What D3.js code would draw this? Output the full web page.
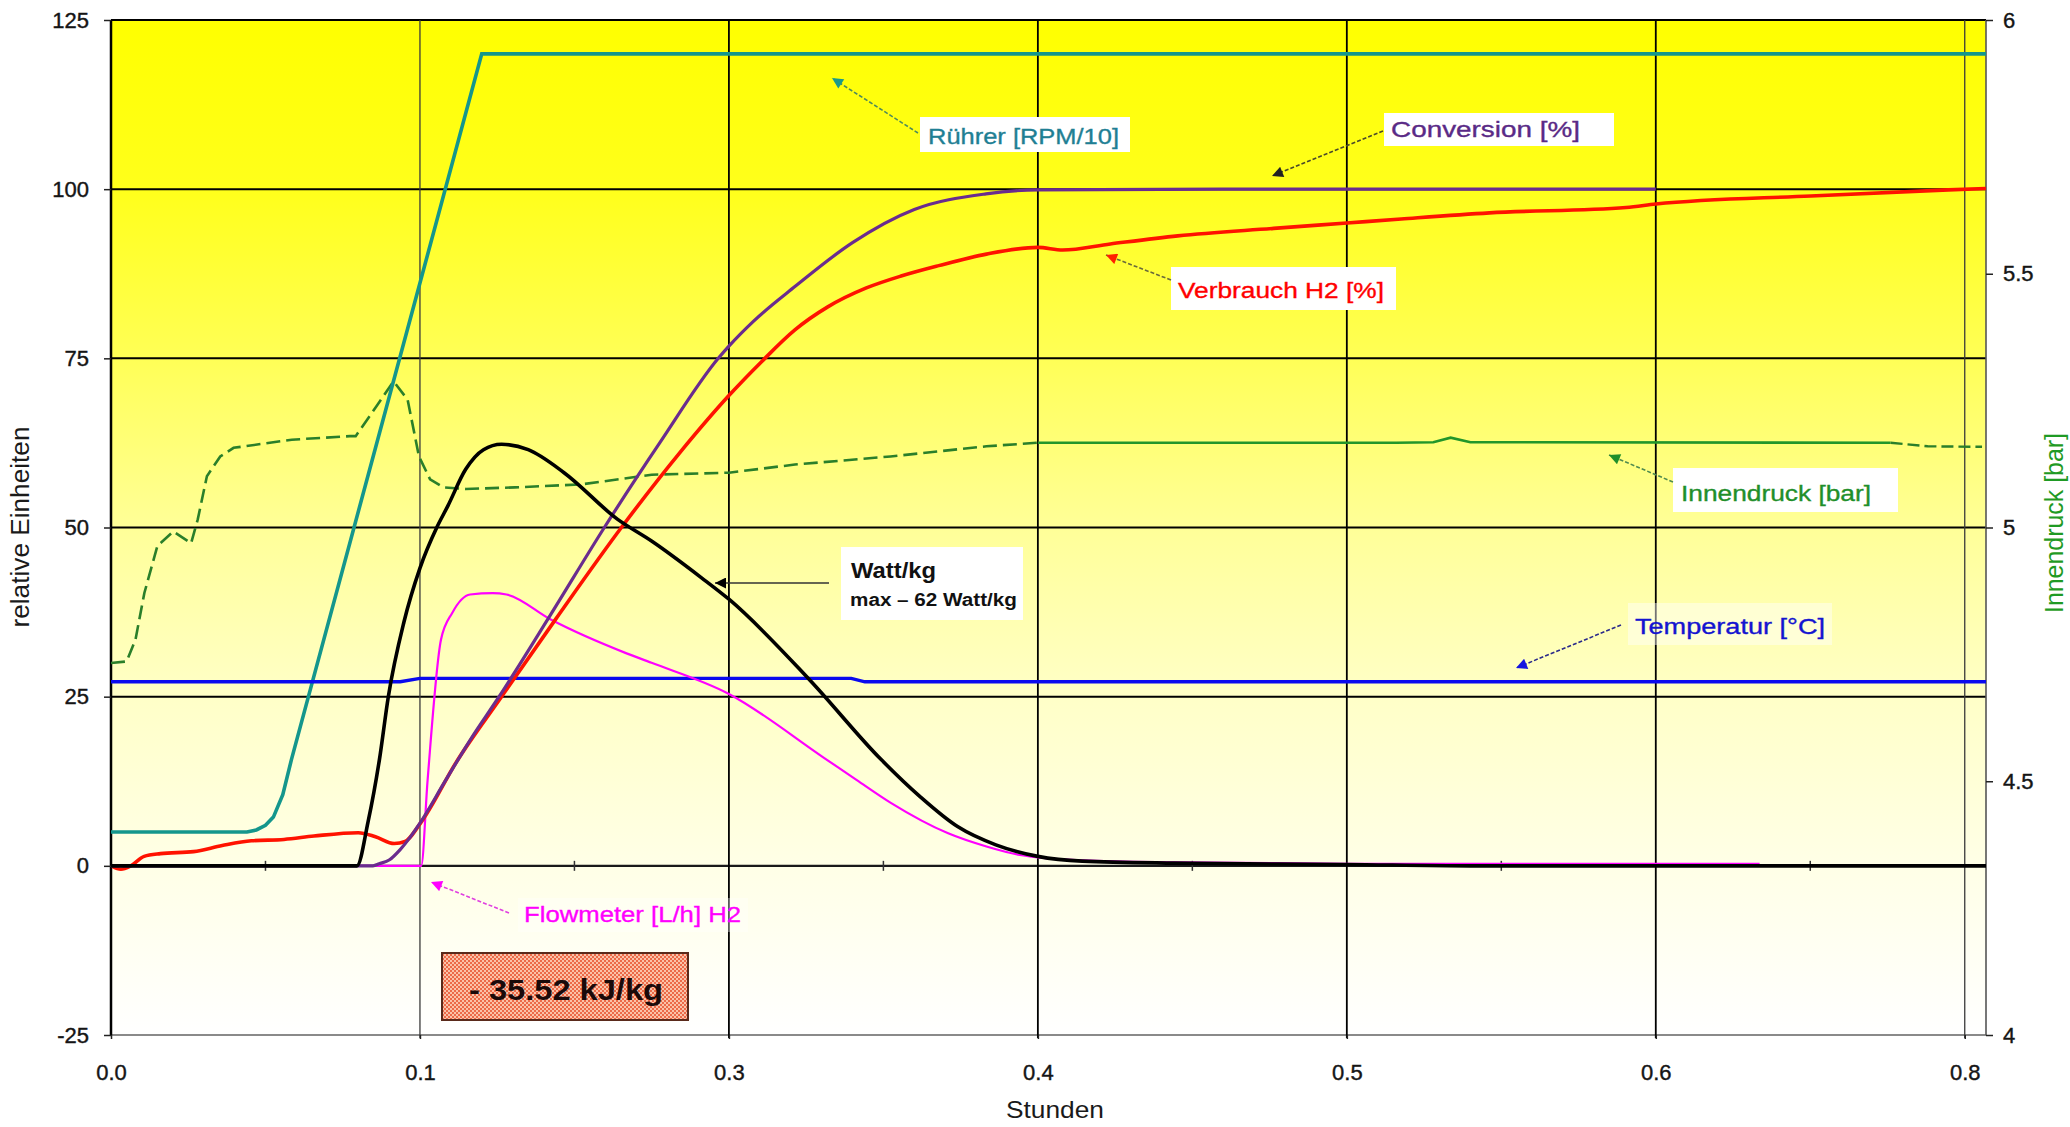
<!DOCTYPE html>
<html><head><meta charset="utf-8">
<script src="https://cdn.jsdelivr.net/npm/d3@7"></script>
<style>
html,body{margin:0;padding:0;background:#fff;overflow:hidden}
svg{display:block}
text{font-family:"Liberation Sans",Arial,sans-serif}
</style>
</head><body>
<svg id="chart" width="2070" height="1127"></svg>
<script>
// ---------- data (x in hours, left values in relative units, pressure in bar) ----------
const xTickValues = [0, 0.125, 0.25, 0.375, 0.5, 0.625, 0.75];
const xTickLabels = ["0.0", "0.1", "0.3", "0.4", "0.5", "0.6", "0.8"];
const xMinorTicks = [0.0625, 0.1875, 0.3125, 0.4375, 0.5625, 0.6875];
const leftTicks = [125, 100, 75, 50, 25, 0, -25];
const rightTicks = [6, 5.5, 5, 4.5, 4];

const ruehrer = [[0,5],[0.055,5],[0.0588,5.3],[0.0625,6],[0.0657,7.2],[0.0695,10.5],[0.073,15.7],[0.150,120],[0.7586,120]];
const conversion = [[0,0],[0.106,0],[0.1085,0.3],[0.1127,0.9],[0.117,2.4],[0.121,4.2],[0.125,6.3],[0.135,12.4],[0.146,19],[0.157,25],[0.178,37.2],[0.1996,50],[0.222,62.5],[0.2457,75],[0.25,76.8],[0.26,80.5],[0.2767,85.6],[0.3,92.1],[0.325,97],[0.354,99.3],[0.375,99.9],[0.45,100],[0.625,100]];
const verbrauch = [[0,0],[0.004,-0.5],[0.008,0],[0.0134,1.4],[0.02,1.8],[0.0334,2.1],[0.045,3.0],[0.0568,3.7],[0.07,3.9],[0.0821,4.4],[0.1,4.9],[0.107,4.3],[0.1146,3.3],[0.119,3.6],[0.125,6.2],[0.14,15.5],[0.158,25],[0.18,36.5],[0.2065,50],[0.23,61],[0.25,69.5],[0.2632,74.5],[0.2767,79.2],[0.29,82.6],[0.3056,85.4],[0.32,87.2],[0.3349,88.7],[0.3542,90.4],[0.375,91.4],[0.385,91.0],[0.4043,91.9],[0.4316,93.1],[0.4704,94.2],[0.5,95.0],[0.522,95.6],[0.5577,96.5],[0.613,97.3],[0.625,97.8],[0.6877,99.0],[0.7434,99.9],[0.7586,100.1]];
const wattKg = [[0,0],[0.0995,0],[0.104,6.5],[0.1086,15.7],[0.1122,25],[0.1185,36],[0.125,44],[0.1318,50],[0.1363,53.2],[0.1435,58.6],[0.1507,61.5],[0.158,62.3],[0.1688,61.5],[0.1833,58.1],[0.205,51.2],[0.2187,48],[0.2388,42.6],[0.25,39.4],[0.2826,27.5],[0.3116,15.7],[0.3271,10.3],[0.3425,5.8],[0.358,3.1],[0.375,1.4],[0.393,0.7],[0.43,0.4],[0.5,0.2],[0.55,0],[0.7586,0]];
const flowmeter = [[0,0],[0.1255,0],[0.1281,12.7],[0.1335,33.4],[0.1381,37.4],[0.1453,40.1],[0.1544,40.3],[0.16,40.1],[0.1779,36.4],[0.2086,31.4],[0.2187,30],[0.25,25.4],[0.2883,16],[0.3016,12.7],[0.3155,9.3],[0.3387,4.8],[0.3542,2.85],[0.3677,1.6],[0.393,0.8],[0.43,0.5],[0.5,0.3],[0.667,0.3]];
const temperatur = [[0,27.2],[0.117,27.2],[0.125,27.7],[0.2995,27.7],[0.305,27.2],[0.7586,27.2]];
const innendruck = [[0,4.733],[0.0063,4.736],[0.0099,4.779],[0.0135,4.871],[0.0188,4.964],[0.0252,4.992],[0.0324,4.969],[0.0351,5.016],[0.0388,5.101],[0.0442,5.140],[0.0496,5.157],[0.0731,5.173],[0.0966,5.180],[0.099,5.180],[0.1074,5.239],[0.1143,5.288],[0.12,5.252],[0.1246,5.140],[0.1291,5.095],[0.1345,5.079],[0.1435,5.076],[0.1634,5.079],[0.1904,5.085],[0.2187,5.104],[0.25,5.108],[0.2767,5.124],[0.3154,5.140],[0.3542,5.160],[0.375,5.167],[0.52,5.167],[0.535,5.168],[0.542,5.177],[0.55,5.168],[0.72,5.167],[0.735,5.160],[0.757,5.159]];

const annotationTexts = ["Rührer [RPM/10]", "Conversion  [%]", "Verbrauch H2 [%]", "Innendruck [bar]", "Temperatur  [°C]", "Flowmeter [L/h] H2"];

// ---------- layout ----------
const plot = {left: 111, right: 1986, top: 20, bottom: 1035};
const x = d3.scaleLinear().domain([0, 0.7586]).range([plot.left, plot.right]);
const y = d3.scaleLinear().domain([-25, 125]).range([plot.bottom, plot.top]);
const yR = d3.scaleLinear().domain([4, 6]).range([plot.bottom, plot.top]);

const svg = d3.select("#chart");
const defs = svg.append("defs");

const grad = defs.append("linearGradient").attr("id", "bg").attr("x1", 0).attr("y1", 0).attr("x2", 0).attr("y2", 1);
[[0, "#ffff00"], [0.17, "#ffff1c"], [0.33, "#ffff55"], [0.5, "#ffff98"], [0.67, "#ffffc8"], [0.83, "#ffffe6"], [1, "#ffffff"]]
  .forEach(s => grad.append("stop").attr("offset", s[0]).attr("stop-color", s[1]));

const pat = defs.append("pattern").attr("id", "hatch").attr("width", 4).attr("height", 4).attr("patternUnits", "userSpaceOnUse");
pat.append("rect").attr("width", 4).attr("height", 4).attr("fill", "#fbc2a8");
pat.append("rect").attr("width", 2).attr("height", 2).attr("fill", "#ec6a48");
pat.append("rect").attr("x", 2).attr("y", 2).attr("width", 2).attr("height", 2).attr("fill", "#ec6a48");

defs.append("clipPath").attr("id", "clip").append("rect")
  .attr("x", plot.left).attr("y", plot.top).attr("width", plot.right - plot.left).attr("height", plot.bottom - plot.top);

function marker(id, color) {
  defs.append("marker").attr("id", id).attr("viewBox", "0 0 10 10").attr("refX", 10).attr("refY", 5)
    .attr("markerWidth", 13).attr("markerHeight", 11).attr("markerUnits", "userSpaceOnUse").attr("orient", "auto")
    .append("path").attr("d", "M0,0 L10,5 L0,10 z").attr("fill", color);
}

// background
svg.append("rect").attr("x", plot.left).attr("y", plot.top).attr("width", plot.right - plot.left)
  .attr("height", plot.bottom - plot.top).attr("fill", "url(#bg)");

// gridlines
const grid = svg.append("g");
grid.selectAll("line.h").data(leftTicks).join("line")
  .attr("x1", plot.left).attr("x2", plot.right).attr("y1", d => y(d)).attr("y2", d => y(d))
  .attr("stroke", d => d === -25 ? "#8a8a8a" : (d === 0 ? "#1a1a1a" : "#000"))
  .attr("stroke-width", d => d === 0 ? 2.4 : 2);
grid.selectAll("line.v").data(xTickValues.filter(d => d > 0)).join("line")
  .attr("x1", d => x(d)).attr("x2", d => x(d)).attr("y1", plot.top).attr("y2", plot.bottom + 3)
  .attr("stroke", d => (d === 0.125 || d === 0.75) ? "#3a3a3a" : "#000")
  .attr("stroke-width", d => (d === 0.125 || d === 0.75) ? 1.3 : 1.8);
// minor ticks on the zero axis
grid.selectAll("line.m").data(xMinorTicks).join("line")
  .attr("x1", d => x(d)).attr("x2", d => x(d)).attr("y1", y(0) - 5).attr("y2", y(0) + 5)
  .attr("stroke", "#333").attr("stroke-width", 1.5);

// axis frame
svg.append("line").attr("x1", plot.left).attr("x2", plot.left).attr("y1", plot.top).attr("y2", plot.bottom)
  .attr("stroke", "#000").attr("stroke-width", 2.5);
svg.append("line").attr("x1", plot.right).attr("x2", plot.right).attr("y1", plot.top).attr("y2", plot.bottom)
  .attr("stroke", "#555").attr("stroke-width", 1.6);

// axes
const axL = svg.append("g").attr("transform", `translate(${plot.left},0)`)
  .call(d3.axisLeft(y).tickValues(leftTicks).tickSize(7).tickPadding(15).tickFormat(d => String(d)));
const axR = svg.append("g").attr("transform", `translate(${plot.right},0)`)
  .call(d3.axisRight(yR).tickValues(rightTicks).tickSize(7).tickPadding(10).tickFormat(d => String(d)));
const axB = svg.append("g").attr("transform", `translate(0,${plot.bottom})`)
  .call(d3.axisBottom(x).tickValues(xTickValues).tickSize(4).tickPadding(25).tickFormat((d, i) => xTickLabels[i]));
[axL, axR, axB].forEach(a => {
  a.select(".domain").remove();
  a.selectAll("text").attr("font-size", 22).attr("fill", "#151515").attr("stroke", "#151515").attr("stroke-width", 0.4)
    .attr("font-family", "'Liberation Sans',Arial,sans-serif");
  a.selectAll(".tick line").attr("stroke", "#222").attr("stroke-width", 1.5);
});

// axis titles
svg.append("text").attr("transform", "translate(29,527) rotate(-90)").attr("text-anchor", "middle")
  .attr("font-size", 25).attr("fill", "#1a1a1a").attr("textLength", 201).attr("lengthAdjust", "spacingAndGlyphs")
  .text("relative Einheiten");
svg.append("text").attr("transform", "translate(2063,523) rotate(-90)").attr("text-anchor", "middle")
  .attr("font-size", 25).attr("fill", "#1f9a24").attr("textLength", 180).attr("lengthAdjust", "spacingAndGlyphs")
  .text("Innendruck [bar]");
svg.append("text").attr("x", 1055).attr("y", 1118).attr("text-anchor", "middle")
  .attr("font-size", 24).attr("fill", "#1a1a1a").attr("textLength", 98).attr("lengthAdjust", "spacingAndGlyphs")
  .text("Stunden");

// series
const g = svg.append("g").attr("clip-path", "url(#clip)");
const lineL = d3.line().x(d => x(d[0])).y(d => y(d[1]));
const lineS = d3.line().x(d => x(d[0])).y(d => y(d[1])).curve(d3.curveMonotoneX);
const lineR = d3.line().x(d => x(d[0])).y(d => yR(d[1]));

// Innendruck: dashed early and at the end, solid in between
const pA = innendruck.filter(d => d[0] <= 0.375);
const pB = innendruck.filter(d => d[0] >= 0.375 && d[0] <= 0.72);
const pC = innendruck.filter(d => d[0] >= 0.72);
g.append("path").attr("d", lineR(pA)).attr("fill", "none").attr("stroke", "#2a7f2a").attr("stroke-width", 2.6).attr("stroke-dasharray", "14,6");
g.append("path").attr("d", lineR(pB)).attr("fill", "none").attr("stroke", "#22962a").attr("stroke-width", 2.6);
g.append("path").attr("d", lineR(pC)).attr("fill", "none").attr("stroke", "#2a7f2a").attr("stroke-width", 2.4).attr("stroke-dasharray", "12,5");

g.append("path").attr("d", lineL(ruehrer)).attr("fill", "none").attr("stroke", "#14968c").attr("stroke-width", 3.6);
g.append("path").attr("d", lineL(temperatur)).attr("fill", "none").attr("stroke", "#0a0aee").attr("stroke-width", 3.4);
g.append("path").attr("d", lineS(flowmeter)).attr("fill", "none").attr("stroke", "#ff00ff").attr("stroke-width", 2.2);
g.append("path").attr("d", lineS(verbrauch)).attr("fill", "none").attr("stroke", "#ff1200").attr("stroke-width", 3.6);
g.append("path").attr("d", lineS(conversion)).attr("fill", "none").attr("stroke", "#6a2c8e").attr("stroke-width", 3.2);
g.append("path").attr("d", lineS(wattKg)).attr("fill", "none").attr("stroke", "#000").attr("stroke-width", 3.6);

// annotations (layout in pixels)
const notes = [
  {i: 0, box: [920, 117, 210, 35], op: 1, tx: 928, ty: 144, tl: 191, color: "#1f7f94", arrow: [918, 133, 832, 78], head: "#1a9a8a", lc: "#4f8a5a"},
  {i: 1, box: [1384, 113, 230, 33], op: 1, tx: 1391, ty: 137, tl: 189, color: "#5a2a86", arrow: [1383, 131, 1272, 176], head: "#222", lc: "#4a4a2a"},
  {i: 2, box: [1171, 267, 225, 43], op: 1, tx: 1178, ty: 298, tl: 206, color: "#ff0000", arrow: [1171, 280, 1106, 255], head: "#ff2000", lc: "#6a6a3a"},
  {i: 3, box: [1673, 468, 225, 44], op: 1, tx: 1681, ty: 501, tl: 190, color: "#1f8f2a", arrow: [1673, 482, 1609, 455], head: "#1f8f2a", lc: "#4f8a4f"},
  {i: 4, box: [1628, 603, 204, 42], op: 0.45, tx: 1635, ty: 634, tl: 190, color: "#1414d0", arrow: [1621, 625, 1516, 668], head: "#1414e0", lc: "#2a2a8a"},
  {i: 5, box: [518, 898, 230, 34], op: 0.35, tx: 524, ty: 922, tl: 217, color: "#ff00ff", arrow: [509, 913, 431, 882], head: "#ff00ff", lc: "#e040e0"}
];
const an = svg.append("g");
notes.forEach((n, k) => {
  marker("ah" + k, n.head);
  an.append("rect").attr("x", n.box[0]).attr("y", n.box[1]).attr("width", n.box[2]).attr("height", n.box[3])
    .attr("fill", "#fff").attr("fill-opacity", n.op);
  an.append("line").attr("x1", n.arrow[0]).attr("y1", n.arrow[1]).attr("x2", n.arrow[2]).attr("y2", n.arrow[3])
    .attr("stroke", n.lc).attr("stroke-width", 1.6).attr("stroke-dasharray", "4,2").attr("marker-end", `url(#ah${k})`);
  an.append("text").attr("x", n.tx).attr("y", n.ty).attr("font-size", 22).attr("fill", n.color)
    .attr("stroke", n.color).attr("stroke-width", 0.35)
    .attr("textLength", n.tl).attr("lengthAdjust", "spacingAndGlyphs").text(annotationTexts[n.i]);
});

// Watt/kg label
marker("ahW", "#000");
an.append("rect").attr("x", 841).attr("y", 547).attr("width", 182).attr("height", 73).attr("fill", "#fff");
an.append("line").attr("x1", 829).attr("y1", 583).attr("x2", 715).attr("y2", 583)
  .attr("stroke", "#333").attr("stroke-width", 1.5).attr("marker-end", "url(#ahW)");
an.append("text").attr("x", 851).attr("y", 578).attr("font-size", 22).attr("font-weight", "bold").attr("fill", "#111")
  .attr("textLength", 85).attr("lengthAdjust", "spacingAndGlyphs").text("Watt/kg");
an.append("text").attr("x", 850).attr("y", 606).attr("font-size", 17.5).attr("font-weight", "bold").attr("fill", "#111")
  .attr("textLength", 167).attr("lengthAdjust", "spacingAndGlyphs").text("max – 62 Watt/kg");

// energy box
an.append("rect").attr("x", 442).attr("y", 953).attr("width", 246).attr("height", 67)
  .attr("fill", "url(#hatch)").attr("stroke", "#5a2a1a").attr("stroke-width", 2);
an.append("text").attr("x", 566).attr("y", 1000).attr("text-anchor", "middle").attr("font-size", 30)
  .attr("font-weight", "bold").attr("fill", "#1a0a0a").attr("textLength", 194).attr("lengthAdjust", "spacingAndGlyphs")
  .text("- 35.52 kJ/kg");
</script>
</body></html>
